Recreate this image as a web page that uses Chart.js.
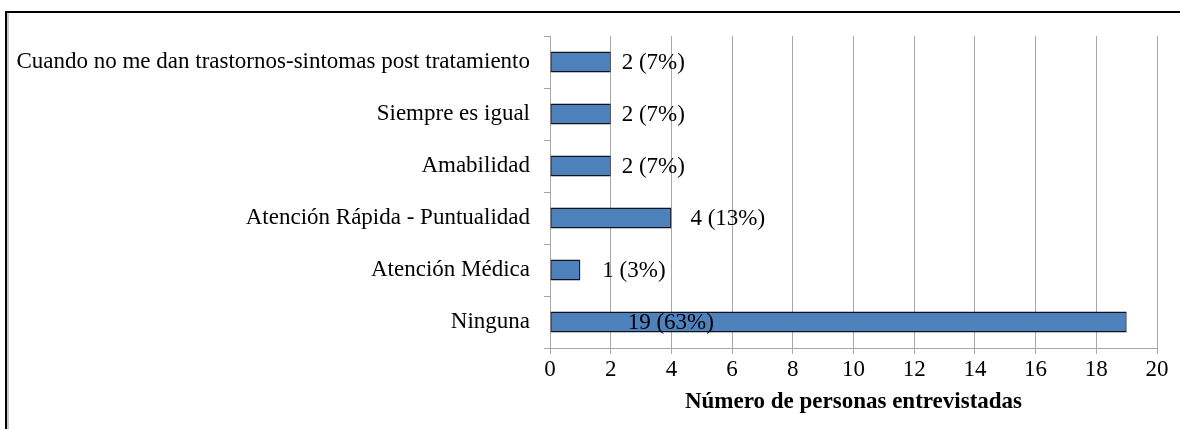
<!DOCTYPE html>
<html>
<head>
<meta charset="utf-8">
<script src="https://cdn.jsdelivr.net/npm/chart.js@4/dist/chart.umd.min.js"></script>
<style>
  html, body { margin: 0; padding: 0; background: #fff; }
  #wrap { width: 1180px; height: 429px; position: relative; }
</style>
</head>
<body>
<div id="wrap"><canvas id="grafico" width="1180" height="429"></canvas></div>
<script>
// motivos (de arriba hacia abajo) y cantidad de personas
const categorias = [
  'Cuando no me dan trastornos-sintomas post tratamiento',
  'Siempre es igual',
  'Amabilidad',
  'Atención Rápida - Puntualidad',
  'Atención Médica',
  'Ninguna'
];
const personas = [2, 2, 2, 4, 1, 19];
const porcentajes = [7, 7, 7, 13, 3, 63];
const ticksX = [0, 2, 4, 6, 8, 10, 12, 14, 16, 18, 20];

// separacion de cada etiqueta respecto al final de la barra (px)
const desplazamientoEtiqueta = [11, 11, 11, 19, 22, -499];

const gris = '#a6a6a6';
const fuente = 'Liberation Serif, Times New Roman, serif';
Chart.defaults.font.family = fuente;
Chart.defaults.color = '#000';

// marco del recuadro (linea negra arriba e izquierda)
const marco = {
  id: 'marco',
  beforeDraw(chart) {
    const c = chart.ctx;
    c.save();
    c.fillStyle = '#fff';
    c.fillRect(0, 0, chart.width, chart.height);
    c.fillStyle = '#000';
    c.fillRect(5, 11, chart.width - 5, 2);
    c.fillRect(5, 11, 2, chart.height - 11);
    c.fillStyle = '#c8c8c8';
    c.fillRect(7, 13, 2, chart.height - 13);
    c.restore();
  }
};

// etiquetas "n (p%)" al lado de cada barra
const etiquetas = {
  id: 'etiquetas',
  afterDatasetsDraw(chart) {
    const c = chart.ctx;
    const meta = chart.getDatasetMeta(0);
    c.save();
    c.font = '23px ' + fuente;
    c.fillStyle = '#000';
    c.textAlign = 'left';
    c.textBaseline = 'middle';
    meta.data.forEach((bar, i) => {
      const texto = personas[i] + ' (' + porcentajes[i] + '%)';
      c.fillText(texto, bar.x + desplazamientoEtiqueta[i], bar.y + 1);
    });
    c.restore();
  }
};

const ctx = document.getElementById('grafico');
const chart = new Chart(ctx, {
  type: 'bar',
  data: {
    labels: categorias,
    datasets: [{
      data: personas,
      backgroundColor: '#4f81bd',
      borderColor: '#0d1220',
      borderWidth: 1.3,
      borderSkipped: false,
      barPercentage: 0.4,
      categoryPercentage: 1
    }]
  },
  options: {
    indexAxis: 'y',
    responsive: false,
    animation: false,
    layout: { padding: { left: 10, right: 23, top: 36, bottom: 0 } },
    plugins: {
      legend: { display: false },
      tooltip: { enabled: false }
    },
    scales: {
      x: {
        min: 0,
        max: 20,
        afterBuildTicks: (s) => { s.ticks = ticksX.map(v => ({ value: v })); },
        afterFit: (s) => { s.height = 81; },
        grid: { color: gris, tickLength: 6, lineWidth: 1 },
        border: { color: gris },
        ticks: { font: { size: 23 }, padding: 2, color: '#000' },
        title: {
          display: true,
          text: 'Número de personas entrevistadas',
          font: { size: 23, weight: 'bold' },
          padding: { top: 0, bottom: 13 },
          color: '#000'
        }
      },
      y: {
        afterFit: (s) => { s.width = 540; },
        grid: { drawOnChartArea: false, color: gris, tickLength: 6 },
        border: { color: gris },
        ticks: { font: { size: 23 }, padding: 14, color: '#000' }
      }
    }
  },
  plugins: [marco, etiquetas]
});
</script>
</body>
</html>
